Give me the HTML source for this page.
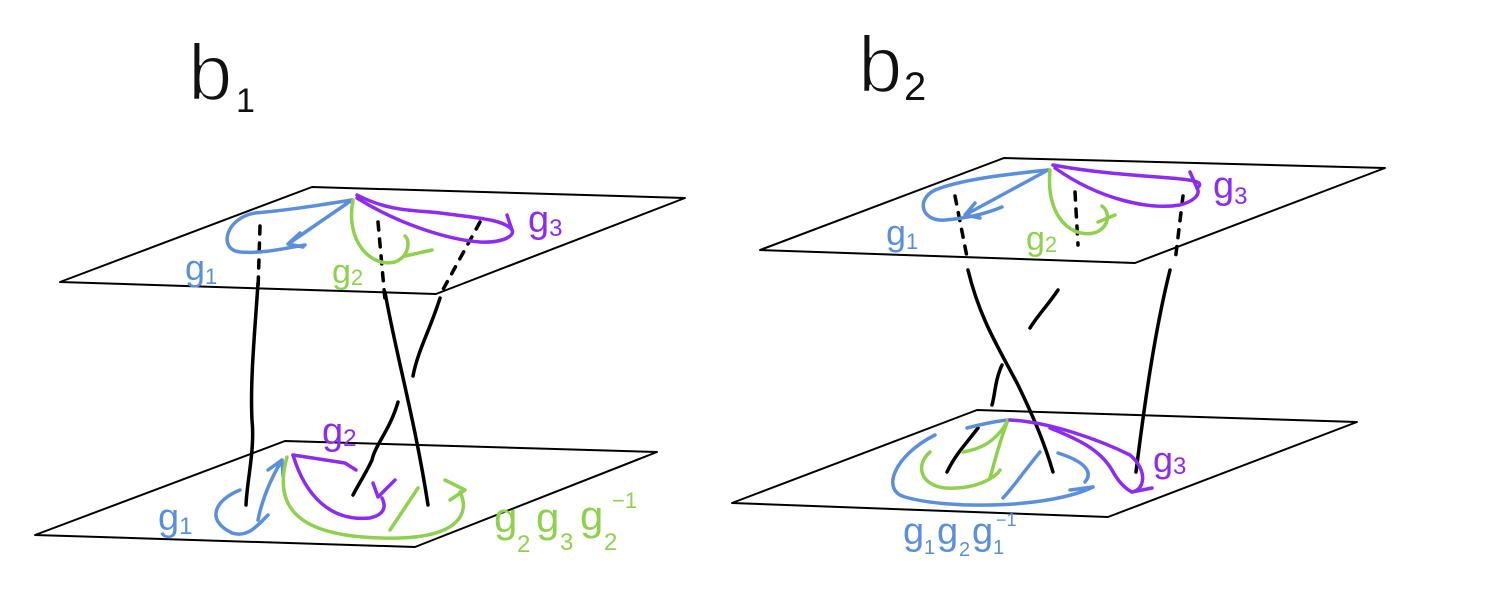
<!DOCTYPE html>
<html><head><meta charset="utf-8"><style>
html,body{margin:0;padding:0;background:#fff;}
svg{display:block;}
text{font-family:"Liberation Sans",sans-serif;}
</style></head><body>
<svg width="1498" height="610" viewBox="0 0 1498 610" xmlns="http://www.w3.org/2000/svg" fill="none" stroke-linecap="round" stroke-linejoin="round">
<g>
<text x="188" y="100" font-size="80" fill="#111" stroke="#fff" stroke-width="2">b</text>
<text x="236" y="112" font-size="34" fill="#111" stroke="none">1</text>
</g>
<g>
<text x="858" y="92" font-size="80" fill="#111" stroke="#fff" stroke-width="2">b</text>
<text x="904" y="100" font-size="40" fill="#111" stroke="none">2</text>
</g>

<!-- Left diagram -->
<g stroke="#000" stroke-width="2">
<path d="M60,282 L312,187 L685,198 L436,294 Z"/></g>
<g stroke="#000" stroke-width="2">
<path d="M35,535 L285,441 L657,452 L415,547 Z"/></g>

<g stroke="#000" stroke-width="3.5">
<path d="M260,226 L258,290" stroke-dasharray="8,9"/>
<path d="M378,222 L385,300" stroke-dasharray="8,9"/>
<path d="M480,222 L440,295" stroke-dasharray="8,9"/>
<path d="M258,283 C255,330 250,380 252,420 C255,450 247,480 246,505"/>
<path d="M385,292 C395,350 415,420 428,505"/>
<path d="M440,298 C430,330 418,350 413,376"/>
<path d="M398,402 C390,430 375,445 372,460 C365,475 358,485 353,495"/>
</g>

<g stroke="#5b8fdc" stroke-width="3.5">
<path d="M352,200 C320,205 290,210 255,213 C225,218 218,250 240,252 C265,254 290,247 305,245"/>
<path d="M352,200 L288,244 M288,244 L300,233 M288,244 L303,247"/>
</g>
<g stroke="#8fd14f" stroke-width="3.5">
<path d="M353,200 C345,240 370,268 395,262 C410,256 410,240 405,236"/>
<path d="M405,256 L432,250"/>
</g>
<g stroke="#8c2cf0" stroke-width="3.5">
<path d="M357,195 C390,212 415,210 440,213 C480,218 505,220 512,230"/>
<path d="M357,198 C400,225 450,240 480,242 C505,243 515,235 512,230"/>
<path d="M512,230 L507,215"/>
</g>
<text x="185" y="280" font-size="36" fill="#5b8fdc">g<tspan font-size="22" dy="4">1</tspan></text>
<text x="332" y="283" font-size="34" fill="#8fd14f">g<tspan font-size="22" dy="2">2</tspan></text>
<text x="528" y="232" font-size="38" fill="#8c2cf0">g<tspan font-size="24" dy="4">3</tspan></text>

<g stroke="#5b8fdc" stroke-width="3.5">
<path d="M240,490 C215,500 205,520 232,533 C248,538 258,525 268,515"/>
<path d="M258,520 C262,500 270,480 282,460 M282,460 L268,470 M282,460 L283,476"/>
</g>
<g stroke="#8fd14f" stroke-width="3.5">
<path d="M287,457 C272,510 300,540 400,538 C460,536 470,512 460,492"/>
<path d="M445,480 L465,490 L450,500"/>
<path d="M390,530 L418,488"/>
</g>
<g stroke="#8c2cf0" stroke-width="3.5">
<path d="M293,455 L345,463 L356,470"/>
<path d="M293,455 C305,495 330,522 370,518 C383,515 387,508 382,498"/>
<path d="M373,483 L378,497 L395,480"/>
</g>
<text x="158" y="530" font-size="38" fill="#5b8fdc">g<tspan font-size="24" dy="4">1</tspan></text>
<text x="322" y="444" font-size="38" fill="#8c2cf0">g<tspan font-size="24" dy="2">2</tspan></text>
<g fill="#8fd14f" stroke="none">
<text x="494" y="532" font-size="42">g</text>
<text x="517" y="552" font-size="24">2</text>
<text x="536" y="532" font-size="42">g</text>
<text x="560" y="550" font-size="24">3</text>
<text x="580" y="530" font-size="42">g</text>
<text x="604" y="550" font-size="24">2</text>
<text x="612" y="508" font-size="22">−1</text>
</g>

<!-- Right diagram -->
<g stroke="#000" stroke-width="2">
<path d="M760,250 L1004,158 L1385,168 L1135,263 Z"/></g>
<g stroke="#000" stroke-width="2">
<path d="M732,503 L977,410 L1357,422 L1108,517 Z"/></g>

<g stroke="#000" stroke-width="3.5">
<path d="M955,196 L968,262" stroke-dasharray="8,9"/>
<path d="M1075,192 L1078,245" stroke-dasharray="8,9"/>
<path d="M1183,196 L1175,262" stroke-dasharray="8,9"/>
<path d="M968,270 C980,320 1000,350 1018,385 C1035,420 1045,445 1053,472"/>
<path d="M1058,290 C1048,305 1038,315 1030,328"/>
<path d="M1002,365 C995,380 995,395 992,405"/>
<path d="M978,428 C965,445 955,455 947,472"/>
<path d="M1170,270 C1155,330 1145,400 1136,472"/>
</g>

<g stroke="#5b8fdc" stroke-width="3.5">
<path d="M1048,170 C1000,175 960,180 935,190 C915,200 922,222 945,220 C970,218 990,212 1002,207"/>
<path d="M1048,170 L965,215 M965,215 L975,203 M965,215 L980,218"/>
</g>
<g stroke="#8fd14f" stroke-width="3.5">
<path d="M1050,170 C1045,220 1075,240 1097,232 C1110,225 1110,212 1102,206"/>
<path d="M1098,222 L1115,215"/>
</g>
<g stroke="#8c2cf0" stroke-width="3.5">
<path d="M1053,165 C1090,172 1130,175 1170,178 C1195,180 1205,182 1197,188"/>
<path d="M1055,168 C1100,200 1150,210 1180,205 C1198,200 1200,192 1197,188"/>
<path d="M1197,188 L1190,172"/>
</g>
<text x="886" y="245" font-size="36" fill="#5b8fdc">g<tspan font-size="22" dy="4">1</tspan></text>
<text x="1026" y="250" font-size="34" fill="#8fd14f">g<tspan font-size="22" dy="2">2</tspan></text>
<text x="1213" y="198" font-size="38" fill="#8c2cf0">g<tspan font-size="24" dy="6">3</tspan></text>

<g stroke="#5b8fdc" stroke-width="3.5">
<path d="M935,435 C895,455 880,490 905,497 C950,510 1050,508 1093,487"/>
<path d="M967,428 C990,422 1005,420 1010,420"/>
<path d="M1040,452 C1025,470 1015,485 1003,498"/>
<path d="M1058,453 C1080,460 1095,470 1085,482 M1070,490 L1093,487"/>
</g>
<g stroke="#8fd14f" stroke-width="3.5"> 
<path d="M1008,420 C995,445 975,450 963,452"/>
<path d="M930,452 C915,465 920,485 945,488 C975,490 995,478 1000,470"/>
<path d="M1008,420 C1000,440 995,460 990,478"/>
</g>
<g stroke="#8c2cf0" stroke-width="3.5">
<path d="M1010,420 C1050,422 1100,440 1130,455 C1148,470 1145,490 1132,492"/>
<path d="M1050,428 C1080,440 1100,450 1112,470 C1120,485 1128,490 1132,492 M1132,492 L1152,488"/>
</g>
<text x="1153" y="472" font-size="36" fill="#8c2cf0">g<tspan font-size="24" dy="2">3</tspan></text>
<g fill="#5b8fdc" stroke="none">
<text x="903" y="544" font-size="38">g</text>
<text x="924" y="554" font-size="20">1</text>
<text x="937" y="544" font-size="38">g</text>
<text x="959" y="556" font-size="20">2</text>
<text x="972" y="544" font-size="38">g</text>
<text x="993" y="554" font-size="20">1</text>
<text x="996" y="526" font-size="18">−1</text>
</g>
</svg>
</body></html>
